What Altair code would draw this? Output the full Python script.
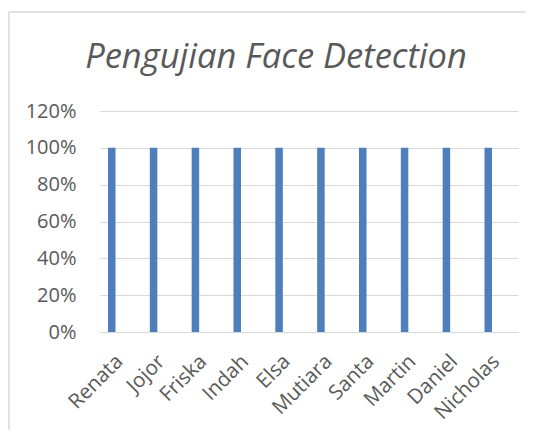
import altair as alt
import pandas as pd

title_text = ["Pengujian Face Detection"]
names = ["Renata", "Jojor", "Friska", "Indah", "Elsa", "Mutiara", "Santa", "Martin", "Daniel", "Nicholas"]
values = [1.0, 1.0, 1.0, 1.0, 1.0, 1.0, 1.0, 1.0, 1.0, 1.0]
y_ticks = [0, 0.2, 0.4, 0.6, 0.8, 1.0, 1.2]

df = pd.DataFrame({"name": names, "value": values})

TEXT = "#595959"
GRID = "#D9D9D9"
FONT = "Open Sans"

bars = alt.Chart(df).mark_bar(color="#4E7FBC").encode(
    x=alt.X("name:N", sort=names, title=None,
            scale=alt.Scale(paddingInner=0.82, paddingOuter=0.406, align=0.235),
            axis=alt.Axis(labelAngle=-45, labelFontSize=20.5, labelColor=TEXT, labelFont=FONT,
                          ticks=False, domainColor=GRID, domainWidth=1, labelPadding=19,
                          labelOffset=1)),
    y=alt.Y("value:Q", title=None,
            scale=alt.Scale(domain=[0, 1.2], nice=False),
            axis=alt.Axis(values=y_ticks, format=".0%", labelFontSize=20, labelColor=TEXT,
                          labelFont=FONT, ticks=False, domain=False, gridColor=GRID,
                          gridWidth=1, labelPadding=24)),
)

one = pd.DataFrame({"t": title_text})
title = alt.Chart(one).mark_text(font=FONT, fontSize=34.5, fontStyle="italic", color=TEXT,
                                 baseline="alphabetic", align="center").encode(
    text="t:N", x=alt.value(176), y=alt.value(-43)
)
left_border = alt.Chart(one).mark_rule(color="#D9D9D9", strokeWidth=1.5).encode(
    x=alt.value(-91), y=alt.value(-99), y2=alt.value(327)
)
top_border = alt.Chart(one).mark_rule(color="#D9D9D9", strokeWidth=1.5).encode(
    x=alt.value(-91), x2=alt.value(426), y=alt.value(-99)
)

chart = alt.layer(bars, title, left_border, top_border).properties(
    width=418, height=221,
    background="white",
    autosize=alt.AutoSizeParams(type="none"),
    padding={"left": 92, "top": 103, "right": 16, "bottom": 98},
).configure_view(stroke=None)

chart.save("out.html", embed_options={"renderer": "svg", "actions": False})
